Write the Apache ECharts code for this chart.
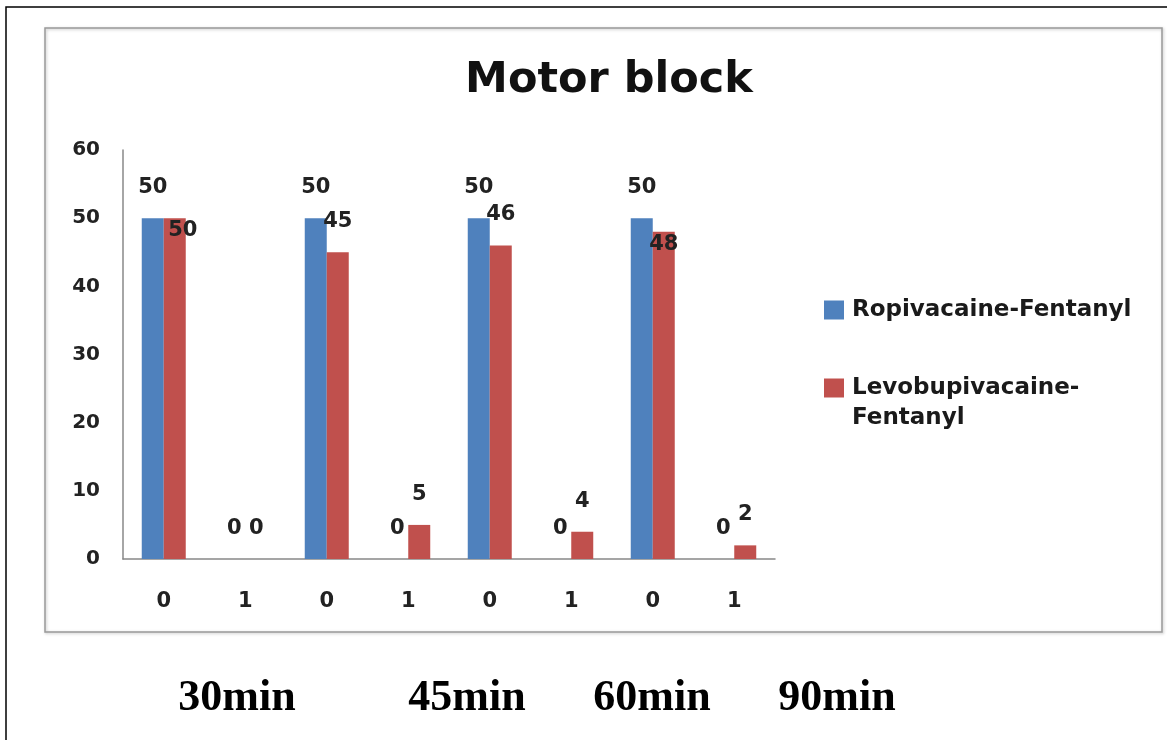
<!DOCTYPE html>
<html>
<head>
<meta charset="utf-8">
<script src="https://cdn.jsdelivr.net/npm/echarts@6/dist/echarts.min.js"></script>
<style>
    html, body { margin: 0; padding: 0; background: #fff; }
    #chart { width: 1167px; height: 740px; }
</style>
</head>
<body>
<div id="chart"></div>
<script>
    // values
    const categories = ['0', '1', '0', '1', '0', '1', '0', '1'];
    const ropivacaine = [50, 0, 50, 0, 50, 0, 50, 0];
    const levobupivacaine = [50, 0, 45, 5, 46, 4, 48, 2];
    const seriesNames = ['Ropivacaine-Fentanyl', 'Levobupivacaine-Fentanyl'];
    const timeLabels = ['30min', '45min', '60min', '90min'];

    const font = 'DejaVu Sans';
    const blue = '#4F81BD';
    const red = '#C0504D';

    let chart = echarts.init(document.getElementById('chart'));

    // red labels sit inside the bar when they would collide with the blue one
    let redData = levobupivacaine.map(function (v, i) {
        if (v >= 48) {
            return {
                value: v,
                label: {
                    position: 'insideTop',
                    distance: 2,
                    offset: [v === ropivacaine[i] ? 8 : 0, 0]
                }
            };
        }
        return v;
    });

    let timeX = [237, 467, 652, 837];

    chart.setOption({
        animation: false,
        backgroundColor: '#fff',
        title: {
            text: 'Motor block',
            left: 604,
            textAlign: 'center',
            top: 54,
            textStyle: {
                fontFamily: font,
                fontWeight: 'bold',
                fontSize: 43,
                color: '#111'
            }
        },
        legend: {
            orient: 'vertical',
            left: 819,
            top: 290,
            icon: 'rect',
            itemWidth: 20,
            itemHeight: 19,
            itemGap: 18,
            data: seriesNames,
            // second entry: blank first line so the square lines up with "Levobupivacaine-"
            formatter: function (name) {
                if (name === seriesNames[1]) {
                    return ' \nLevobupivacaine-\nFentanyl';
                }
                return name;
            },
            textStyle: {
                fontFamily: font,
                fontWeight: 'bold',
                fontSize: 23,
                lineHeight: 30,
                padding: [0, 0, 0, 3],
                color: '#1a1a1a'
            }
        },
        grid: {
            left: 123,
            right: 392,
            top: 150,
            bottom: 181
        },
        xAxis: {
            type: 'category',
            data: categories,
            axisTick: { show: false },
            axisLine: { lineStyle: { color: '#888', width: 1.5 } },
            axisLabel: {
                margin: 32,
                fontFamily: font,
                fontWeight: 'bold',
                fontSize: 21,
                color: '#222'
            }
        },
        yAxis: {
            type: 'value',
            min: 0,
            max: 60,
            interval: 10,
            splitLine: { show: false },
            axisTick: { show: false },
            axisLine: { show: true, lineStyle: { color: '#888', width: 1.5 } },
            axisLabel: {
                margin: 23,
                fontFamily: font,
                fontWeight: 'bold',
                fontSize: 20,
                color: '#222'
            }
        },
        series: [
            {
                name: seriesNames[0],
                type: 'bar',
                data: ropivacaine,
                barWidth: 22,
                barGap: 0,
                itemStyle: { color: blue },
                label: {
                    show: true,
                    position: 'top',
                    distance: 20,
                    fontFamily: font,
                    fontWeight: 'bold',
                    fontSize: 21,
                    color: '#222'
                }
            },
            {
                name: seriesNames[1],
                type: 'bar',
                data: redData,
                barWidth: 22,
                barGap: 0,
                itemStyle: { color: red },
                label: {
                    show: true,
                    position: 'top',
                    distance: 20,
                    fontFamily: font,
                    fontWeight: 'bold',
                    fontSize: 21,
                    color: '#222'
                }
            }
        ],
        graphic: [
            {
                type: 'rect',
                silent: true,
                shape: { x: 6, y: 7, width: 1170, height: 740 },
                style: { fill: 'none', stroke: '#000', lineWidth: 1.5 }
            },
            {
                type: 'rect',
                silent: true,
                shape: { x: 45, y: 28, width: 1117, height: 604 },
                style: {
                    fill: 'none',
                    stroke: '#999',
                    lineWidth: 1.5,
                    shadowColor: 'rgba(0,0,0,0.25)',
                    shadowBlur: 3,
                    shadowOffsetX: 1,
                    shadowOffsetY: 1
                }
            }
        ].concat(timeLabels.map(function (t, i) {
            return {
                type: 'text',
                silent: true,
                x: timeX[i],
                y: 699,
                style: {
                    text: t,
                    align: 'center',
                    verticalAlign: 'middle',
                    fontFamily: 'Liberation Serif',
                    fontWeight: 'bold',
                    fontSize: 44,
                    fill: '#000'
                }
            };
        }))
    });
</script>
</body>
</html>
